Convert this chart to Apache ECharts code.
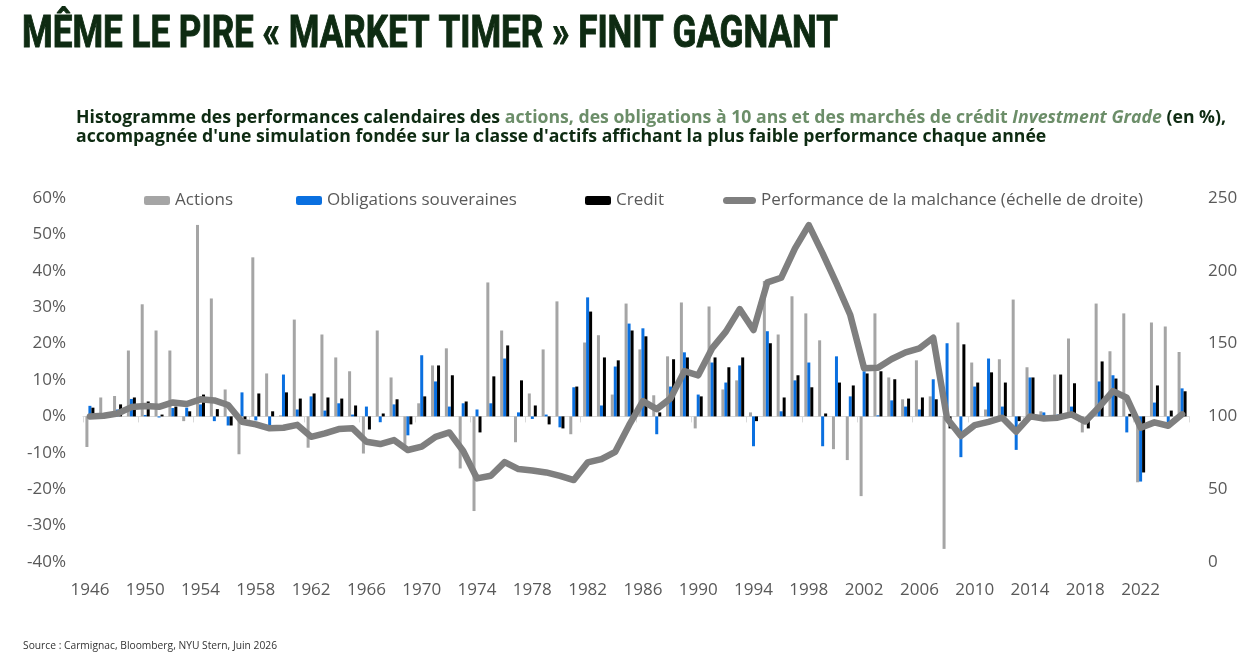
<!DOCTYPE html>
<html>
<head>
<meta charset="utf-8">
<script src="https://cdn.jsdelivr.net/npm/echarts@6/dist/echarts.min.js"></script>
<style>
html, body { margin: 0; padding: 0; background: #fff; }
#chart { width: 1254px; height: 658px; }
</style>
</head>
<body>
<div id="chart"></div>
<script>
// années 1946 -> 2025
const years = [];
for (let y = 1946; y <= 2025; y++) years.push(String(y));

// performances calendaires (%)
const actions = [
	-8.4, 5.2, 5.6, 18.1, 30.8, 23.6, 18.1, -1.3, 52.6, 32.4,
	7.4, -10.4, 43.7, 11.8, 0.3, 26.6, -8.6, 22.5, 16.2, 12.4,
	-10.2, 23.6, 10.7, -7.9, 3.6, 14.0, 18.7, -14.3, -26.0, 36.8,
	23.6, -7.1, 6.3, 18.4, 31.6, -4.9, 20.3, 22.3, 6.0, 31.0,
	18.4, 5.8, 16.5, 31.3, -3.3, 30.2, 7.4, 9.9, 1.1, 37.2,
	22.5, 33.0, 28.3, 20.9, -9.0, -12.0, -21.9, 28.3, 10.7, 4.7,
	15.4, 5.5, -36.4, 25.8, 14.8, 1.9, 15.7, 32.1, 13.5, 1.4,
	11.5, 21.4, -4.4, 31.0, 17.9, 28.3, -18.1, 25.8, 24.7, 17.7
];
const obligations = [
	2.9, 0.9, 1.9, 4.8, 0.4, -0.3, 2.3, 2.4, 3.3, -1.3,
	-2.5, 6.6, -1.1, -2.4, 11.5, 1.9, 5.5, 1.6, 3.6, 0.5,
	2.7, -1.6, 3.3, -5.2, 16.8, 9.6, 2.7, 3.6, 1.9, 3.6,
	15.9, 1.1, -0.7, 0.5, -3.0, 8.0, 32.7, 3.0, 13.7, 25.5,
	24.2, -4.9, 8.2, 17.6, 6.0, 14.8, 9.3, 14.0, -8.2, 23.4,
	1.4, 9.9, 14.8, -8.2, 16.5, 5.5, 12.4, 0.3, 4.4, 2.7,
	1.9, 10.2, 20.1, -11.2, 8.2, 15.9, 2.7, -9.2, 10.7, 1.1,
	0.5, 2.7, 0.0, 9.6, 11.3, -4.4, -17.9, 3.8, -1.6, 7.7
];
const credit = [
	2.4, 0.3, 3.3, 5.2, 4.1, 0.5, 2.7, 1.4, 6.0, 2.0,
	-2.5, -0.8, 6.3, 1.4, 6.6, 4.9, 6.3, 5.2, 4.9, 3.0,
	-3.6, 0.8, 4.7, -2.2, 5.5, 14.0, 11.3, 4.1, -4.4, 11.0,
	19.5, 9.9, 3.0, -2.2, -3.3, 8.2, 28.8, 16.2, 15.4, 23.6,
	22.0, 1.1, 15.7, 16.2, 5.5, 16.2, 13.5, 16.2, -1.3, 20.1,
	5.2, 11.3, 8.0, 0.8, 9.3, 8.5, 11.8, 12.4, 10.2, 4.9,
	5.2, 4.7, -3.3, 19.8, 9.3, 12.1, 9.3, -1.3, 10.7, -0.5,
	11.5, 9.1, -3.3, 15.1, 10.4, 0.7, -15.4, 8.5, 1.6, 6.9
];
// simulation "malchance" (base 100, échelle de droite)
const malchance = [
	100, 100.5, 102, 106.4, 107.1, 106.6, 109.6, 108.5, 111.7, 111,
	107.8, 96.3, 94.5, 91.8, 92.2, 94.2, 86, 88.3, 91.3, 91.8,
	82.6, 81, 83.7, 76.9, 79.2, 86, 89, 76.2, 57.4, 59.2,
	68.6, 63.8, 62.9, 61.5, 59.2, 56.3, 68.4, 70.7, 75.7, 94,
	110.5, 105, 112.4, 131.1, 128.2, 146.7, 158.2, 173.7, 159.3, 192,
	195.2, 215.4, 231.4, 212, 191.3, 169.6, 133, 133.4, 139.4, 144,
	146.7, 154, 98.6, 86.5, 94, 96.3, 99.1, 89.5, 100, 98.6,
	99.1, 101.4, 96.5, 106.5, 117.4, 112.8, 92.2, 95.9, 93.6, 101.4
];

const titleText = "MÊME LE PIRE « MARKET TIMER » FINIT GAGNANT";
const sub1a = "Histogramme des performances calendaires des ";
const sub1b = "actions, des obligations à 10 ans et des marchés de crédit ";
const sub1c = "Investment Grade";
const sub1d = " (en %),";
const sub2 = "accompagnée d'une simulation fondée sur la classe d'actifs affichant la plus faible performance chaque année";
const sourceText = "Source : Carmignac, Bloomberg, NYU Stern, Juin 2026";

// mesure des textes pour caler les largeurs
const ctx = document.createElement("canvas").getContext("2d");
function textWidth(str, font) {
	ctx.font = font;
	return ctx.measureText(str).width;
}
const titleFont = "bold 44px Roboto";
const titleScale = 816 / textWidth(titleText, titleFont);
const subFont = 'bold 17px "Open Sans"';
const subItalic = 'italic bold 17px "Open Sans"';
const subW = textWidth(sub1a, subFont) + textWidth(sub1b, subFont) + textWidth(sub1c, subItalic) + textWidth(sub1d, subFont);
const subScale = 1150 / subW;
const srcFont = '10px "Open Sans"';
const srcScale = 254 / textWidth(sourceText, srcFont);

const darkGreen = "#0e2b12";
const softGreen = "#6c8e69";
const labelColor = "#595959";
const fontFam = "Open Sans";

let myChart = echarts.init(document.getElementById("chart"), null, { renderer: "canvas" });

const legendText = { color: labelColor, fontSize: 17, fontFamily: fontFam };

let option = {
	animation: false,
	grid: { left: 83, right: 65, top: 198, bottom: 96, containLabel: false },
	graphic: [
		{
			type: "text", x: 22, y: 14, scaleX: titleScale,
			style: { text: titleText, font: titleFont, fill: darkGreen, stroke: darkGreen, lineWidth: 1, textVerticalAlign: "top" }
		},
		{
			type: "text", x: 76, y: 109, scaleX: subScale,
			style: {
				text: "{a|" + sub1a + "}{b|" + sub1b + "}{c|" + sub1c + "}{a|" + sub1d + "}\n{a|" + sub2 + "}",
				textVerticalAlign: "top",
				rich: {
					a: { fontFamily: fontFam, fontWeight: "bold", fontSize: 17, lineHeight: 19, fill: darkGreen },
					b: { fontFamily: fontFam, fontWeight: "bold", fontSize: 17, lineHeight: 19, fill: softGreen },
					c: { fontFamily: fontFam, fontWeight: "bold", fontStyle: "italic", fontSize: 17, lineHeight: 19, fill: softGreen }
				}
			}
		},
		{
			type: "text", x: 23, y: 646, scaleX: srcScale,
			style: { text: sourceText, font: srcFont, fill: "#333333", textVerticalAlign: "middle" }
		}
	],
	legend: [
		{ left: 144, top: 192, padding: 0, itemWidth: 26, itemHeight: 9, data: ["Actions"], textStyle: legendText },
		{ left: 296, top: 192, padding: 0, itemWidth: 26, itemHeight: 9, data: ["Obligations souveraines"], textStyle: legendText },
		{ left: 585, top: 192, padding: 0, itemWidth: 26, itemHeight: 9, data: ["Credit"], textStyle: legendText },
		{
			left: 723, top: 192, padding: 0, itemWidth: 33, itemHeight: 7,
			data: [{ name: "Performance de la malchance (échelle de droite)", icon: "path://M3.5,0H29.5A3.5,3.5,0,0,1,29.5,7H3.5A3.5,3.5,0,0,1,3.5,0Z" }],
			textStyle: legendText
		}
	],
	xAxis: [
		{
			type: "category",
			data: years,
			position: "bottom",
			axisLine: { show: true, onZero: true, onZeroAxisIndex: 0, lineStyle: { color: "#d9d9d9", width: 1 } },
			axisTick: { show: true, interval: 3, length: 6, lineStyle: { color: "#d9d9d9" } },
			axisLabel: { show: false },
			splitLine: { show: false }
		},
		{
			type: "category",
			data: years,
			position: "bottom",
			axisLine: { show: false, onZero: false },
			axisTick: { show: false },
			axisLabel: { interval: 3, color: labelColor, fontSize: 17, fontFamily: fontFam, margin: 20 },
			splitLine: { show: false }
		}
	],
	yAxis: [
		{
			type: "value",
			min: -40, max: 60, interval: 10,
			axisLabel: { formatter: "{value}%", color: labelColor, fontSize: 17, fontFamily: fontFam, margin: 17 },
			axisLine: { show: false }, axisTick: { show: false }, splitLine: { show: false }
		},
		{
			type: "value",
			min: 0, max: 250, interval: 50,
			position: "right",
			axisLabel: { color: labelColor, fontSize: 17, fontFamily: fontFam, margin: 19 },
			axisLine: { show: false }, axisTick: { show: false }, splitLine: { show: false }
		}
	],
	series: [
		{ name: "Actions", type: "bar", data: actions, barWidth: 3, barGap: "0%", itemStyle: { color: "#a5a5a5" } },
		{ name: "Obligations souveraines", type: "bar", data: obligations, barWidth: 3, barGap: "0%", itemStyle: { color: "#0a70e0" } },
		{ name: "Credit", type: "bar", data: credit, barWidth: 3, barGap: "0%", itemStyle: { color: "#000000" } },
		{
			name: "Performance de la malchance (échelle de droite)",
			type: "line", yAxisIndex: 1, data: malchance, symbol: "none", z: 10,
			itemStyle: { color: "#7f7f7f" },
			lineStyle: { color: "#7f7f7f", width: 6.5, cap: "round", join: "round" }
		}
	]
};

myChart.setOption(option);
window.addEventListener("resize", myChart.resize);
</script>
</body>
</html>
